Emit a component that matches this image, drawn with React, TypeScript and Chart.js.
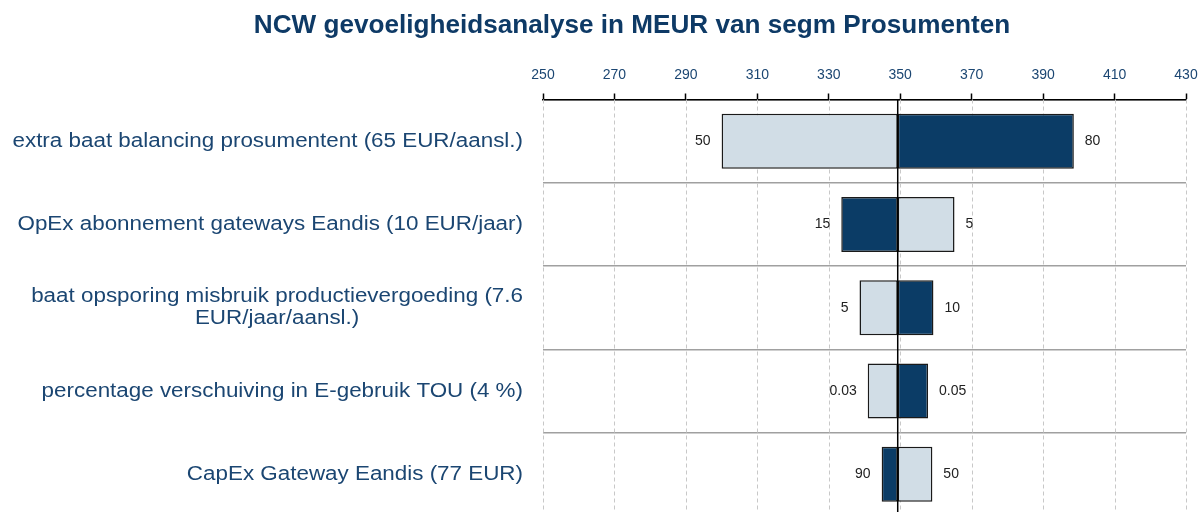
import React, { useEffect, useRef } from "react";
import { Chart, registerables } from "chart.js";

Chart.register(...registerables);

const titleText = "NCW gevoeligheidsanalyse in MEUR van segm Prosumenten";
const categories: string[][] = [
  ["extra baat balancing prosumentent (65 EUR/aansl.)"],
  ["OpEx abonnement gateways Eandis (10 EUR/jaar)"],
  ["baat opsporing misbruik productievergoeding (7.6", "EUR/jaar/aansl.)"],
  ["percentage verschuiving in E-gebruik TOU (4 %)"],
  ["CapEx Gateway Eandis (77 EUR)"],
];
const baseValue = 349.3;
const leftEnds = [300, 333.5, 338.6, 340.9, 344.8];
const rightEnds = [398.6, 365.2, 359.3, 357.8, 359.0];
const leftLabels = ["50", "15", "5", "0.03", "90"];
const rightLabels = ["80", "5", "10", "0.05", "50"];
const leftIsDark = [false, true, false, false, true];
const xMin = 250;
const xMax = 430;
const xStep = 20;

const DARK = "#0b3c66";
const LIGHT = "#d1dde6";
const TEXT_BLUE = "#1b4672";
const FONT = '"Liberation Sans", Arial, sans-serif';

function stretchedText(ctx: any, text: string, x: number, y: number, sx: number) {
  ctx.save();
  ctx.translate(x, y);
  ctx.scale(sx, 1);
  ctx.fillText(text, 0, 0);
  ctx.restore();
}

export default function App() {
  const ref = useRef<HTMLCanvasElement | null>(null);

  useEffect(() => {
    if (!ref.current) return;

    const decor = {
      id: "decor",
      beforeDatasetsDraw(chart: any) {
        const { ctx, chartArea } = chart;
        const xs = chart.scales.x;
        ctx.save();
        ctx.strokeStyle = "#c8c8c8";
        ctx.lineWidth = 1;
        ctx.setLineDash([4, 3]);
        for (let v = xMin; v <= xMax + 0.001; v += xStep) {
          const px = Math.round(xs.getPixelForValue(v)) + 0.5;
          ctx.beginPath();
          ctx.moveTo(px, chartArea.top);
          ctx.lineTo(px, chartArea.bottom);
          ctx.stroke();
        }
        ctx.restore();
      },
      afterDatasetsDraw(chart: any) {
        const { ctx, chartArea } = chart;
        const xs = chart.scales.x;
        const ys = chart.scales.y;
        ctx.save();
        // center line
        const cx = xs.getPixelForValue(baseValue);
        ctx.strokeStyle = "#000";
        ctx.lineWidth = 1.5;
        ctx.beginPath();
        ctx.moveTo(cx, chartArea.top);
        ctx.lineTo(cx, chartArea.bottom);
        ctx.stroke();

        // value labels
        ctx.fillStyle = "#222";
        ctx.font = `14px ${FONT}`;
        ctx.textBaseline = "middle";
        for (let i = 0; i < categories.length; i++) {
          const y = ys.getPixelForValue(i);
          ctx.textAlign = "right";
          ctx.fillText(leftLabels[i], xs.getPixelForValue(leftEnds[i]) - 11, y);
          ctx.textAlign = "left";
          ctx.fillText(rightLabels[i], xs.getPixelForValue(rightEnds[i]) + 11, y);
        }

        // category labels
        ctx.fillStyle = TEXT_BLUE;
        ctx.font = `20px ${FONT}`;
        const sx = 1.12;
        const rightEdge = chartArea.left - 20;
        const lh = 22;
        for (let i = 0; i < categories.length; i++) {
          const lines = categories[i];
          const y = ys.getPixelForValue(i);
          const widths = lines.map((l) => ctx.measureText(l).width * sx);
          const blockW = Math.max(...widths);
          const centerX = rightEdge - blockW / 2;
          ctx.textAlign = "center";
          lines.forEach((l, k) => {
            const ly = y + (k - (lines.length - 1) / 2) * lh;
            stretchedText(ctx, l, centerX, ly, sx);
          });
        }

        // title
        ctx.fillStyle = "#0e3a66";
        ctx.font = `bold 25px ${FONT}`;
        ctx.textAlign = "center";
        ctx.textBaseline = "alphabetic";
        stretchedText(ctx, titleText, 632, 33, 1.045);
        ctx.restore();
      },
    };

    const chart = new Chart(ref.current, {
      type: "bar",
      data: {
        labels: categories.map((c) => c.join(" ")),
        datasets: [
          {
            label: "links",
            data: leftEnds.map((v) => [v, baseValue]) as any,
            backgroundColor: leftIsDark.map((d) => (d ? DARK : LIGHT)),
            borderColor: "#1a1a1a",
            borderWidth: 1.5,
            borderSkipped: false,
            barPercentage: 0.66,
            categoryPercentage: 1,
            grouped: false,
          },
          {
            label: "rechts",
            data: rightEnds.map((v) => [baseValue, v]) as any,
            backgroundColor: leftIsDark.map((d) => (d ? LIGHT : DARK)),
            borderColor: "#1a1a1a",
            borderWidth: 1.5,
            borderSkipped: false,
            barPercentage: 0.66,
            categoryPercentage: 1,
            grouped: false,
          },
        ],
      },
      options: {
        indexAxis: "y",
        animation: false,
        responsive: false,
        maintainAspectRatio: false,
        layout: { padding: { left: 543, right: 17, top: 0, bottom: 0 } },
        plugins: {
          legend: { display: false },
          title: { display: false },
          tooltip: { enabled: false },
        },
        scales: {
          x: {
            type: "linear",
            position: "top",
            min: xMin,
            max: xMax,
            afterFit: (s: any) => {
              s.height = 99.5;
              s.paddingLeft = 0;
              s.paddingRight = 0;
            },
            ticks: {
              stepSize: xStep,
              color: TEXT_BLUE,
              font: { family: FONT, size: 14 },
              padding: 10,
            },
            grid: {
              drawOnChartArea: false,
              drawTicks: true,
              tickLength: 6,
              tickColor: "#000",
              tickWidth: 1.5,
            },
            border: { display: true, color: "#000", width: 1.5 },
          },
          y: {
            type: "category",
            afterFit: (s: any) => {
              s.width = 0;
            },
            ticks: { display: false },
            grid: {
              color: "#a0a0a0",
              lineWidth: 1.5,
              offset: true,
              drawTicks: false,
            },
            border: { display: false },
          },
        },
      },
      plugins: [decor],
    });
    return () => chart.destroy();
  }, []);

  return (
    <div style={{ position: "fixed", left: 0, top: 0, width: 1203, height: 516, background: "#fff" }}>
      <canvas ref={ref} width={1203} height={516} style={{ width: 1203, height: 516, display: "block" }} />
    </div>
  );
}
